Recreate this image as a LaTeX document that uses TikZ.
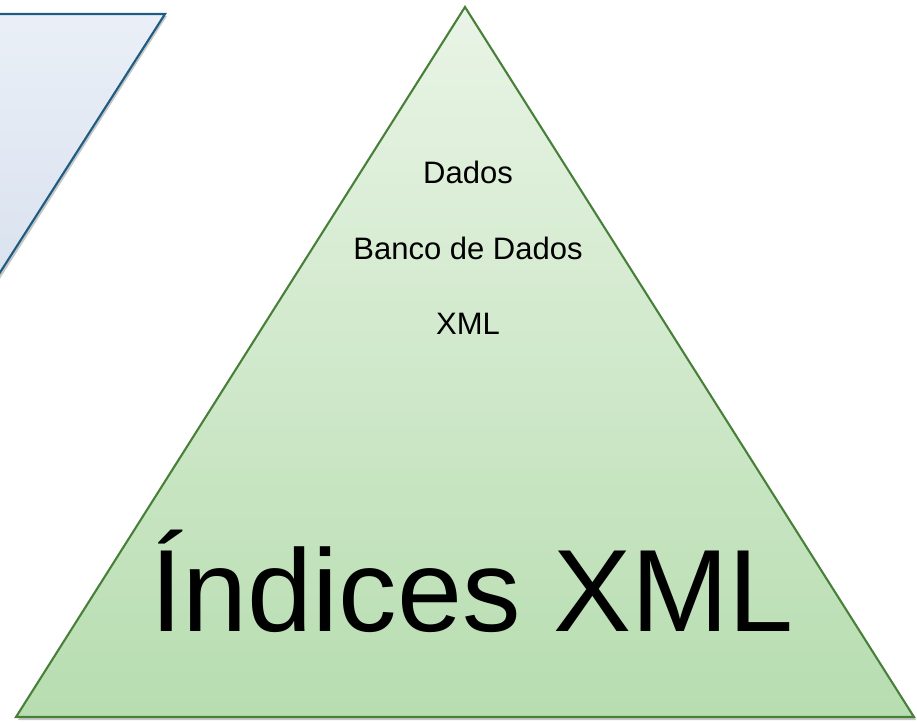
\documentclass[tikz,border=0pt]{standalone}
\usepackage{fontspec}
\setmainfont{Liberation Sans}
\definecolor{pyrline}{RGB}{72,128,58}
\definecolor{pyrtop}{RGB}{233,244,230}
\definecolor{pyrbot}{RGB}{183,221,176}
\definecolor{boxline}{RGB}{31,92,130}
\definecolor{boxtop}{RGB}{234,239,247}
\definecolor{boxbot}{RGB}{216,225,238}
\begin{document}
\begin{tikzpicture}[x=1pt, y=-1pt,
  pyr/.style   ={draw=pyrline, line width=2.1pt, line join=miter,
                 top color=pyrtop, bottom color=pyrbot},
  slab/.style  ={draw=boxline, line width=2.1pt, line join=miter,
                 top color=boxtop, bottom color=boxbot},
  shadow/.style={fill=black, opacity=0.22},
  layer/.style ={font=\fontsize{31}{37}\selectfont, anchor=base, inner sep=0pt},
  big/.style   ={font=\fontsize{117}{140}\selectfont, anchor=base, inner sep=0pt},
]
\useasboundingbox (0,0) rectangle (917,721);
\clip (0,0) rectangle (917,721);

%% ---- Corner points ----
\coordinate (apex) at (465,7);
\coordinate (bl)   at (16,717);
\coordinate (br)   at (914,717);

%% ---- Blue slab (cut by the left edge) ----
\fill[shadow] (-30,16) -- (167,16) -- (-20,310) -- cycle;
\draw[slab] (-30,14) -- (165,14) -- (-22,307) -- cycle;

%% ---- Pyramid ----
\fill[shadow] ([shift={(2,3)}]apex) -- ([shift={(2,3)}]br) -- ([shift={(2,3)}]bl) -- cycle;
\draw[pyr] (apex) -- (br) -- (bl) -- cycle;

%% ---- Labels ----
\node[layer] (dados) at (468,183) {Dados};
\node[layer] (banco) at (468,259) {Banco de Dados};
\node[layer] (xml)   at (468,334) {XML};
\node[big]   (idx)   at (472,631) {Índices XML};

\end{tikzpicture}
\end{document}
